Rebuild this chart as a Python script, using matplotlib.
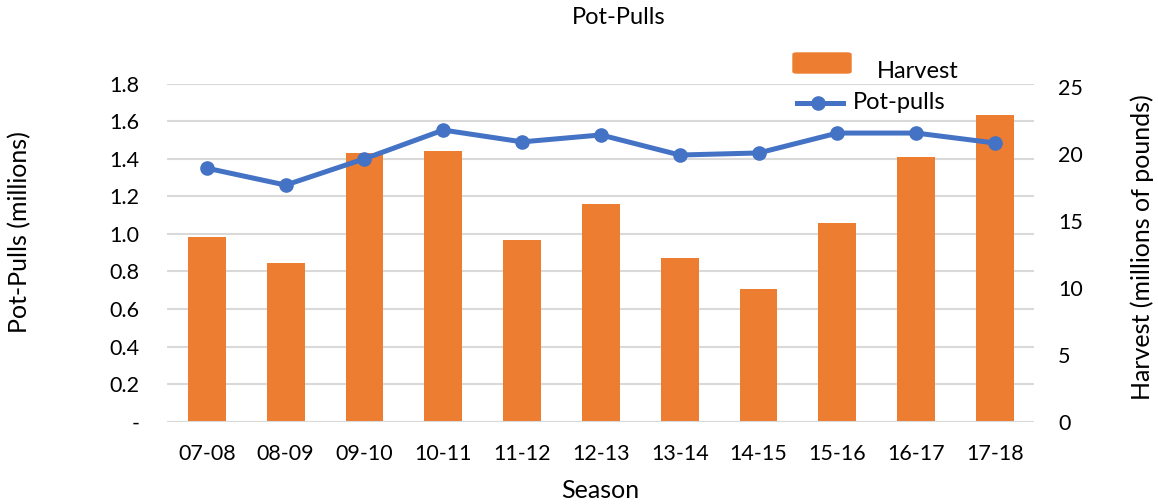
import matplotlib.pyplot as plt
from matplotlib.patches import FancyBboxPatch
from matplotlib.lines import Line2D

plt.rcParams['font.family'] = ['Lato', 'DejaVu Sans']

seasons = ['07-08', '08-09', '09-10', '10-11', '11-12', '12-13',
           '13-14', '14-15', '15-16', '16-17', '17-18']
harvest = [13.8, 11.85, 20.05, 20.2, 13.55, 16.25, 12.2, 9.9, 14.85, 19.75, 22.9]
pot_pulls = [1.35, 1.26, 1.40, 1.553, 1.49, 1.527, 1.42, 1.431, 1.537, 1.537, 1.484]
left_ticks = [0, 0.2, 0.4, 0.6, 0.8, 1.0, 1.2, 1.4, 1.6, 1.8]
left_labels = ['-', '0.2', '0.4', '0.6', '0.8', '1.0', '1.2', '1.4', '1.6', '1.8']
right_ticks = [0, 5, 10, 15, 20, 25]

orange = '#ED7D31'
blue = '#4472C4'
grid = '#D9D9D9'
fs_tick = 15.5
fs_lab = 18
fs_leg = 17

fig = plt.figure(figsize=(11.58, 5.04), dpi=100)
W, H = 1158, 504
ax = fig.add_axes([0.1446, 0.1633, 0.7487, 0.6707])
x = list(range(len(seasons)))

# base axis: left scale + gridlines
ax.set_ylim(0, 1.8)
ax.set_xlim(-0.5, len(seasons) - 0.5)
ax.set_yticks(left_ticks)
ax.set_yticklabels(left_labels, fontsize=fs_tick)
ax.grid(axis='y', color=grid, linewidth=1.5)
ax.set_axisbelow(True)
ax.tick_params(axis='y', length=0, pad=20)
ax.set_xticks(x)
ax.set_xticklabels(seasons, fontsize=fs_tick)
ax.tick_params(axis='x', length=0, pad=16)
for s in ax.spines.values():
    s.set_visible(False)

# bars on right scale
axb = ax.twinx()
axb.bar(x, harvest, width=0.48, color=orange)
axb.set_ylim(0, 25.22)
axb.set_yticks(right_ticks)
axb.tick_params(axis='y', length=0, pad=17, labelsize=fs_tick)
for s in axb.spines.values():
    s.set_visible(False)

# line on top, same scale as left axis
axl = ax.twinx()
axl.set_ylim(0, 1.8)
axl.axhline(0, color=grid, linewidth=1.5)
axl.plot(x, pot_pulls, color=blue, linewidth=3.6, marker='o', markersize=9.5)
axl.set_yticks([])
for s in axl.spines.values():
    s.set_visible(False)

# titles and axis labels
fig.text(619 / W, 1 - 18 / H, 'Pot-Pulls', ha='center', va='center', fontsize=fs_leg)
fig.text(20 / W, 1 - 232 / H, 'Pot-Pulls (millions)', rotation=90,
         ha='center', va='center', fontsize=fs_lab)
fig.text(1142 / W, 1 - 247 / H, 'Harvest (millions of pounds)', rotation=90,
         ha='center', va='center', fontsize=fs_lab)
fig.text(600 / W, 1 - 490 / H, 'Season', ha='center', va='center', fontsize=fs_lab)

# legend drawn by hand to mimic the original layout
patch = FancyBboxPatch((793 / W, 1 - 73 / H), 58 / W, 20 / H,
                       boxstyle='round,pad=0,rounding_size=0.003',
                       transform=fig.transFigure, color=orange)
fig.patches.append(patch)
fig.text(877 / W, 1 - 72 / H, 'Harvest', ha='left', va='center', fontsize=fs_leg)
fig.lines.append(Line2D([797 / W, 843 / W], [1 - 103 / H] * 2,
                        transform=fig.transFigure, color=blue, linewidth=3.6))
fig.lines.append(Line2D([818 / W], [1 - 103 / H], transform=fig.transFigure,
                        color=blue, marker='o', markersize=9.5))
fig.text(853 / W, 1 - 103 / H, 'Pot-pulls', ha='left', va='center', fontsize=fs_leg)

fig.savefig('out.png', dpi=100)
